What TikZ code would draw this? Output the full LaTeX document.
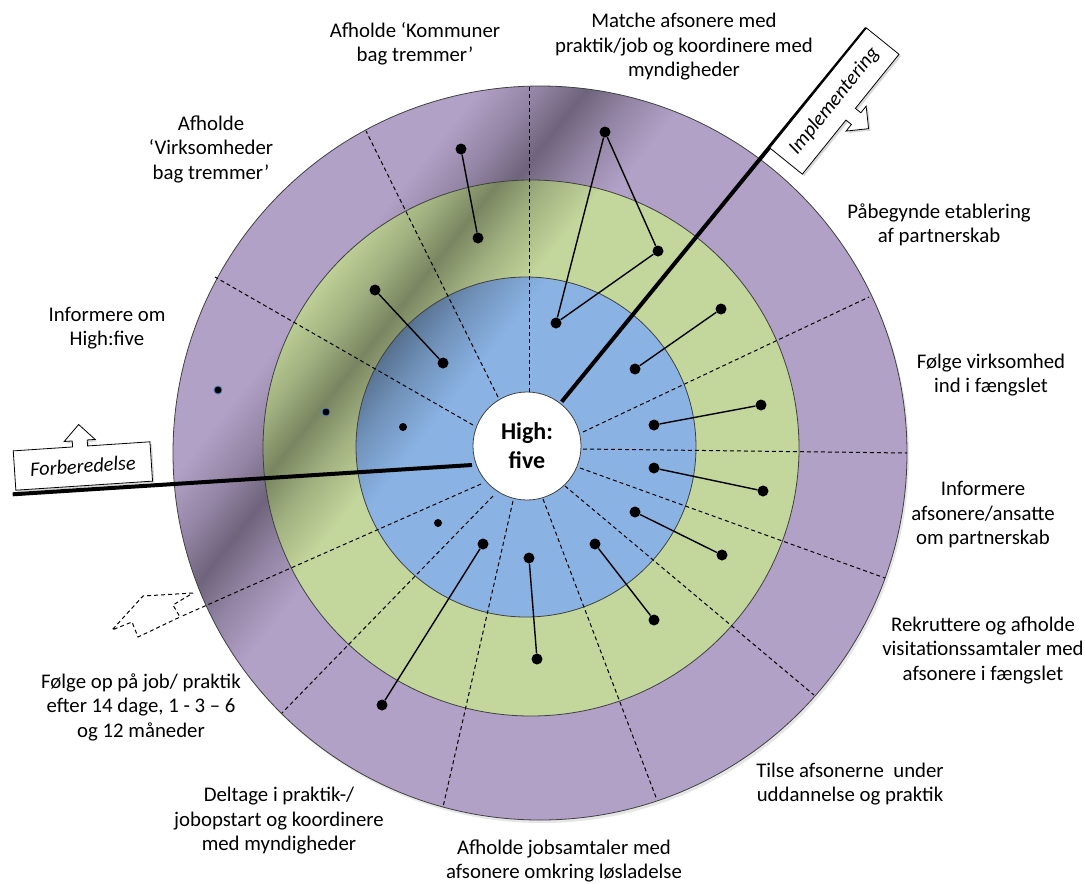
\documentclass[tikz,border=0pt]{standalone}
\usepackage{fontspec}
\setmainfont{Carlito}
\usetikzlibrary{shadows}
\definecolor{myPurple}{RGB}{178,161,199}
\definecolor{myGreen}{RGB}{195,214,155}
\definecolor{myBlue}{RGB}{138,179,228}
\colorlet{myPurpleDark}{myPurple!62!black}
\colorlet{myGreenDark}{myGreen!62!black}
\colorlet{myBlueDark}{myBlue!62!black}
\colorlet{myPurpleMid}{myPurple!82!black}
\colorlet{myGreenMid}{myGreen!82!black}
\colorlet{myBlueMid}{myBlue!82!black}
\definecolor{myEdge}{RGB}{64,64,64}
\definecolor{myDotEdge}{RGB}{79,129,189}
\pgfdeclarehorizontalshading{purpleShade}{100bp}{color(0bp)=(myPurple); color(31.4bp)=(myPurple); color(34.6bp)=(myPurpleMid); color(37.2bp)=(myPurpleDark); color(39.8bp)=(myPurpleMid); color(43bp)=(myPurple); color(100bp)=(myPurple)}
\pgfdeclarehorizontalshading{greenShade}{100bp}{color(0bp)=(myGreen); color(24.4bp)=(myGreen); color(28.8bp)=(myGreenMid); color(32.3bp)=(myGreenDark); color(35.8bp)=(myGreenMid); color(40.2bp)=(myGreen); color(100bp)=(myGreen)}
\pgfdeclarehorizontalshading{blueShade}{100bp}{color(0bp)=(myBlue); color(12.2bp)=(myBlue); color(19.2bp)=(myBlueMid); color(24.8bp)=(myBlueDark); color(30.4bp)=(myBlueMid); color(37.4bp)=(myBlue); color(100bp)=(myBlue)}

\begin{document}
\begin{tikzpicture}[x=1pt,y=-1pt,
		ring/.style={draw=myEdge,line width=0.8pt},
		sector/.style={dash pattern=on 4pt off 3pt,line width=1pt},
		phase/.style={line width=4pt},
		dot/.style={circle,fill=black,inner sep=0pt,minimum size=11pt},
		smalldot/.style={circle,fill=black,inner sep=0pt,minimum size=8pt},
		hfdot/.style={smalldot,draw=myDotEdge,line width=0.8pt},
		link/.style={line width=1.4pt},
		lbl/.style={align=center,font=\fontsize{20.8}{24.5}\selectfont},
		callout/.style={draw,fill=white,line width=0.8pt,drop shadow={opacity=0.3,shadow xshift=2pt,shadow yshift=-2pt}}]
		\useasboundingbox (0,0) rectangle (1085,884);
		
		\shadedraw[ring,shading=purpleShade,shading angle=-38.2,drop shadow={opacity=0.2,shadow xshift=2pt,shadow yshift=-3pt}] (540,453) circle[radius=367];
		\shadedraw[ring,shading=greenShade,shading angle=-38.2] (531,448) circle[radius=268];
		\shadedraw[ring,shading=blueShade,shading angle=-38.2] (526,447) circle[radius=170];
		
		\foreach \xa/\ya/\xb/\yb in {529/392/529/86, 498/397/366/131, 473/425/215/277, 481/484/180/617, 493/496/282/713, 513/501/443/807, 543/499/657/800, 565/486/814/695, 580/468/885/578, 583/449/907/453, 583/432/869/297}
			\draw[sector] (\xa,\ya) -- (\xb,\yb);
		\draw[sector,fill=white] (193,593) -- (143,596) -- (112,630) -- (132,622) -- (138,637) -- (180,617) -- (173,605) -- cycle;
		
		\draw[phase] (12.7,494.3) -- (472,465);
		\draw[phase] (866.7,28.3) -- (561.7,401.7);
		
		\node[circle,draw=myEdge,line width=0.8pt,fill=white,minimum size=108pt,inner sep=0pt,align=center,font=\bfseries\fontsize{24}{29.3}\selectfont] (hub) at (527,446) {High:\\five};
		
		\begin{scope}[shift={(82.9,466)},rotate=3.8,x=1pt,y=1pt]
			\draw[callout] (-68.5,-19.7) -- (68.5,-19.7) -- (68.5,19.7) -- (6,19.7) -- (6,25.7) -- (14,25.7) -- (-1.5,41.7) -- (-17,25.7) -- (-9,25.7) -- (-9,19.7) -- (-68.5,19.7) -- cycle;
			\node[transform shape,font=\itshape\fontsize{20.3}{24.5}\selectfont] (forb) at (0,0) {Forberedelse};
		\end{scope}
		\begin{scope}[shift={(834.4,101.1)},rotate=51.1,x=1pt,y=1pt]
			\draw[callout] (-77,20.9) -- (77,20.9) -- (77,-20.9) -- (7.5,-20.9) -- (7.5,-27.9) -- (16,-27.9) -- (0,-43.9) -- (-16,-27.9) -- (-7.5,-27.9) -- (-7.5,-20.9) -- (-77,-20.9) -- cycle;
			\node[transform shape,font=\itshape\fontsize{20.3}{24.5}\selectfont] (impl) at (0,0) {Implementering};
		\end{scope}
		
		\node[dot] (kom1) at (461,149) {};
		\node[dot] (kom2) at (478,238) {};
		\node[dot] (virk1) at (375,290) {};
		\node[dot] (virk2) at (443,363) {};
		\node[dot] (mat1) at (605,132) {};
		\node[dot] (mat2) at (658,251) {};
		\node[dot] (mat3) at (556,323) {};
		\node[dot] (pab1) at (721,309) {};
		\node[dot] (pab2) at (635,369) {};
		\node[dot] (fvi1) at (761,405) {};
		\node[dot] (fvi2) at (654,425) {};
		\node[dot] (inf1) at (654,468) {};
		\node[dot] (inf2) at (763,491) {};
		\node[dot] (rek1) at (635,512) {};
		\node[dot] (rek2) at (722,555) {};
		\node[dot] (til1) at (595,544) {};
		\node[dot] (til2) at (654,620) {};
		\node[dot] (job1) at (529,558) {};
		\node[dot] (job2) at (537,659) {};
		\node[dot] (del1) at (483,544) {};
		\node[dot] (del2) at (382,705) {};
		\node[smalldot] (op1) at (438,523) {};
		\node[hfdot] (hf1) at (218,390) {};
		\node[hfdot] (hf2) at (326,412) {};
		\node[smalldot] (hf3) at (403,427) {};
		
		\draw[link] (kom1) -- (kom2);
		\draw[link] (virk1) -- (virk2);
		\draw[link] (mat1) -- (mat2) -- (mat3) -- (mat1);
		\draw[link] (pab1) -- (pab2);
		\draw[link] (fvi1) -- (fvi2);
		\draw[link] (inf1) -- (inf2);
		\draw[link] (rek1) -- (rek2);
		\draw[link] (til1) -- (til2);
		\draw[link] (job1) -- (job2);
		\draw[link] (del1) -- (del2);
		
		\node[lbl] (tKom) at (415,44) {Afholde ‘Kommuner\\bag tremmer’};
		\node[lbl] (tMat) at (684,47) {Matche afsonere med\\praktik/job og koordinere med\\myndigheder};
		\node[lbl] (tVirk) at (211,149) {Afholde\\‘Virksomheder\\bag tremmer’};
		\node[lbl] (tInfHf) at (107,328) {Informere om\\High:five};
		\node[lbl] (tPab) at (939,225) {Påbegynde etablering\\af partnerskab};
		\node[lbl] (tFvi) at (991,375) {Følge virksomhed\\ind i fængslet};
		\node[lbl] (tInf) at (983,515) {Informere\\afsonere/ansatte\\om partnerskab};
		\node[lbl] (tRek) at (983,650) {Rekruttere og afholde\\visitationssamtaler med\\afsonere i fængslet};
		\node[lbl] (tTil) at (850,784) {Tilse afsonerne\ \ under\\uddannelse og praktik};
		\node[lbl] (tJob) at (564,861) {Afholde jobsamtaler med\\afsonere omkring løsladelse};
		\node[lbl] (tDel) at (279,821) {Deltage i praktik-/\\jobopstart og koordinere\\med myndigheder};
		\node[lbl] (tOp) at (141,707) {Følge op på job/ praktik\\efter 14 dage, 1 - 3 – 6\\og 12 måneder};
	\end{tikzpicture}
\end{document}
